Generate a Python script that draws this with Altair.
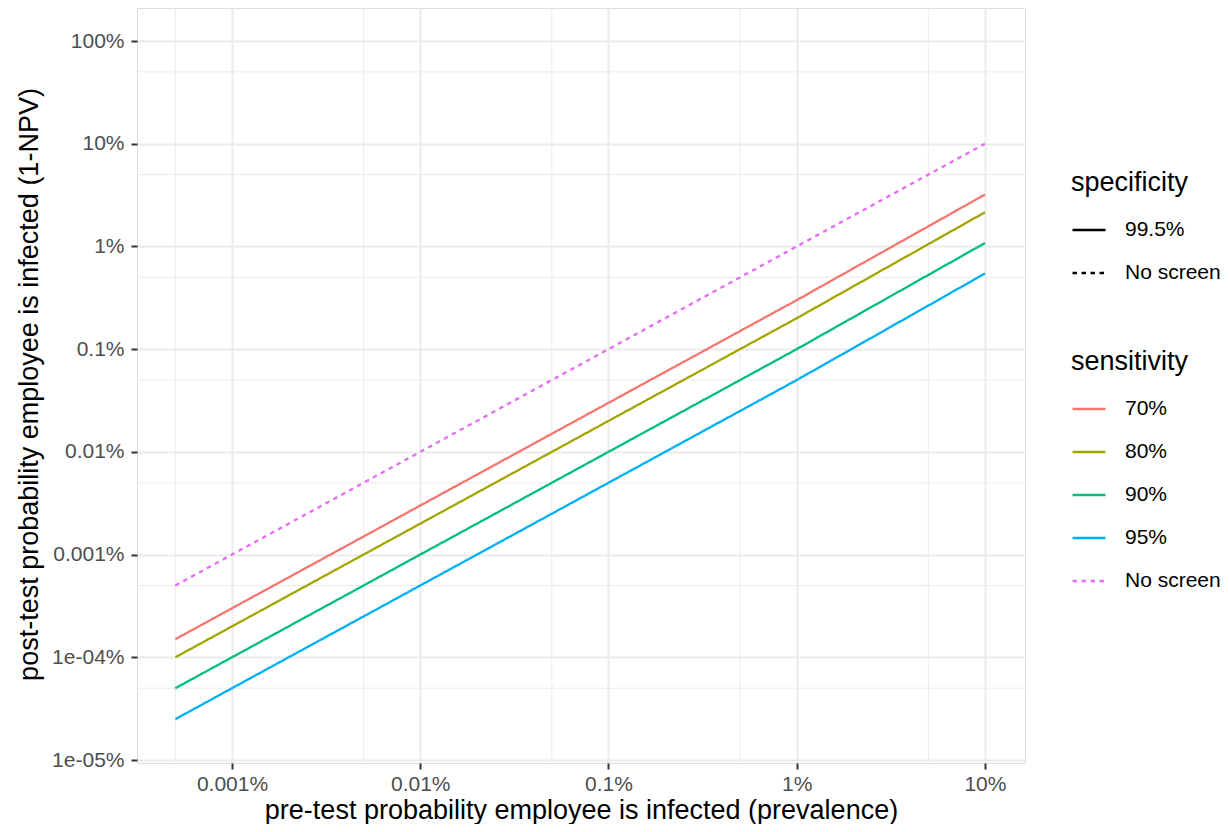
import altair as alt
import pandas as pd
import math

# ---- data (fractions) ----
prevalence = [5e-6, 1e-5, 1e-4, 1e-3, 1e-2, 1e-1]
post_70 = [1.5e-6, 3.0e-6, 3.0e-5, 3.0e-4, 3.0e-3, 3.2e-2]
post_80 = [1.0e-6, 2.0e-6, 2.0e-5, 2.0e-4, 2.0e-3, 2.15e-2]
post_90 = [5.0e-7, 1.0e-6, 1.0e-5, 1.0e-4, 1.0e-3, 1.08e-2]
post_95 = [2.5e-7, 5.0e-7, 5.0e-6, 5.0e-5, 5.0e-4, 5.45e-3]
post_none = [5e-6, 1e-5, 1e-4, 1e-3, 1e-2, 1e-1]

sens_labels = ["70%", "80%", "90%", "95%", "No screen"]
spec_labels = ["99.5%", "99.5%", "99.5%", "99.5%", "No screen"]
spec_domain = ["99.5%", "No screen"]
sens_colors = ["#F8766D", "#A3A500", "#00BF7D", "#00B0F6", "#E76BF3"]

x_tick_values = [1e-5, 1e-4, 1e-3, 1e-2, 1e-1]
x_tick_labels = ["0.001%", "0.01%", "0.1%", "1%", "10%"]
y_tick_values = [1e-7, 1e-6, 1e-5, 1e-4, 1e-3, 1e-2, 1e-1, 1]
y_tick_labels = ["1e-05%", "1e-04%", "0.001%", "0.01%", "0.1%", "1%", "10%", "100%"]
x_minor = [5e-6, 5e-5, 5e-4, 5e-3, 5e-2]
y_minor = [5e-7, 5e-6, 5e-5, 5e-4, 5e-3, 5e-2, 5e-1]

x_domain = [3.128e-6, 0.1632]
y_domain = [9.35e-8, 2.096]

rows = []
for lab, spec, ys in zip(sens_labels, spec_labels,
                         [post_70, post_80, post_90, post_95, post_none]):
    for xv, yv in zip(prevalence, ys):
        rows.append({"prevalence": xv, "post": yv,
                     "sensitivity": lab, "specificity": spec})
df = pd.DataFrame(rows)


def label_expr(values, labels):
    parts = []
    for v, l in zip(values, labels):
        k = round(math.log10(v))
        parts.append(f"round(log(datum.value)/LN10) == {k} ? '{l}' : ")
    return "".join(parts) + "''"


FONT = "Liberation Sans"
common_axis = dict(
    labelFontSize=21, labelColor="#4D4D4D", labelFont=FONT,
    tickColor="#333333", tickWidth=2, tickSize=6,
    domain=False, gridColor="#EBEBEB", gridWidth=2,
    titleFontSize=27, titleFontWeight="normal", titleColor="black",
    titleFont=FONT,
)

x_axis = alt.Axis(values=x_tick_values,
                  labelExpr=label_expr(x_tick_values, x_tick_labels),
                  title="pre-test probability employee is infected (prevalence)",
                  labelPadding=4, titleY=55, titleBaseline="alphabetic",
                  **common_axis)
y_axis = alt.Axis(values=y_tick_values,
                  labelExpr=label_expr(y_tick_values, y_tick_labels),
                  title="post-test probability employee is infected (1-NPV)",
                  labelPadding=7, titleX=-100, titleY=376,
                  titleAngle=270, titleBaseline="alphabetic",
                  **common_axis)

x_scale = alt.Scale(type="log", domain=x_domain, nice=False, zero=False)
y_scale = alt.Scale(type="log", domain=y_domain, nice=False, zero=False)

x_minor_rules = alt.Chart(pd.DataFrame({"v": x_minor})).mark_rule(
    color="#EBEBEB", strokeWidth=1
).encode(x=alt.X("v:Q", scale=x_scale, axis=x_axis))

y_minor_rules = alt.Chart(pd.DataFrame({"v": y_minor})).mark_rule(
    color="#EBEBEB", strokeWidth=1
).encode(y=alt.Y("v:Q", scale=y_scale, axis=y_axis))

legend_common = dict(
    orient="none", symbolType="stroke", symbolSize=1089,
    symbolStrokeWidth=2.3, labelFontSize=21, labelColor="black",
    labelFont=FONT, titleFont=FONT, titleFontSize=27,
    titleFontWeight="normal", titleColor="black", rowPadding=15,
    labelOffset=18, padding=0, titlePadding=15,
)

lines = alt.Chart(df).mark_line(strokeWidth=2.3, clip=True).encode(
    x=alt.X("prevalence:Q", scale=x_scale, axis=x_axis),
    y=alt.Y("post:Q", scale=y_scale, axis=y_axis),
    color=alt.Color(
        "sensitivity:N",
        scale=alt.Scale(domain=sens_labels, range=sens_colors),
        legend=alt.Legend(
            title="sensitivity", legendX=934, legendY=341,
            symbolDash=alt.ExprRef(
                "datum.label === 'No screen' ? [4.5, 4.5] : [1, 0]"),
            **legend_common),
    ),
    strokeDash=alt.StrokeDash(
        "specificity:N",
        scale=alt.Scale(domain=spec_domain, range=[[1, 0], [4.5, 4.5]]),
        legend=alt.Legend(title="specificity", legendX=934, legendY=162,
                          symbolStrokeColor="black", **legend_common),
    ),
    detail="sensitivity:N",
)

chart = alt.layer(x_minor_rules, y_minor_rules, lines).properties(
    width=888, height=755,
    autosize=alt.AutoSizeParams(type="none"),
    padding={"left": 129, "top": 0, "right": 196, "bottom": 61},
).configure_view(
    stroke="#333333", strokeWidth=1.2, fill="white"
).configure(background="white")

chart.save("out.html", embed_options={"renderer": "svg", "actions": False})
